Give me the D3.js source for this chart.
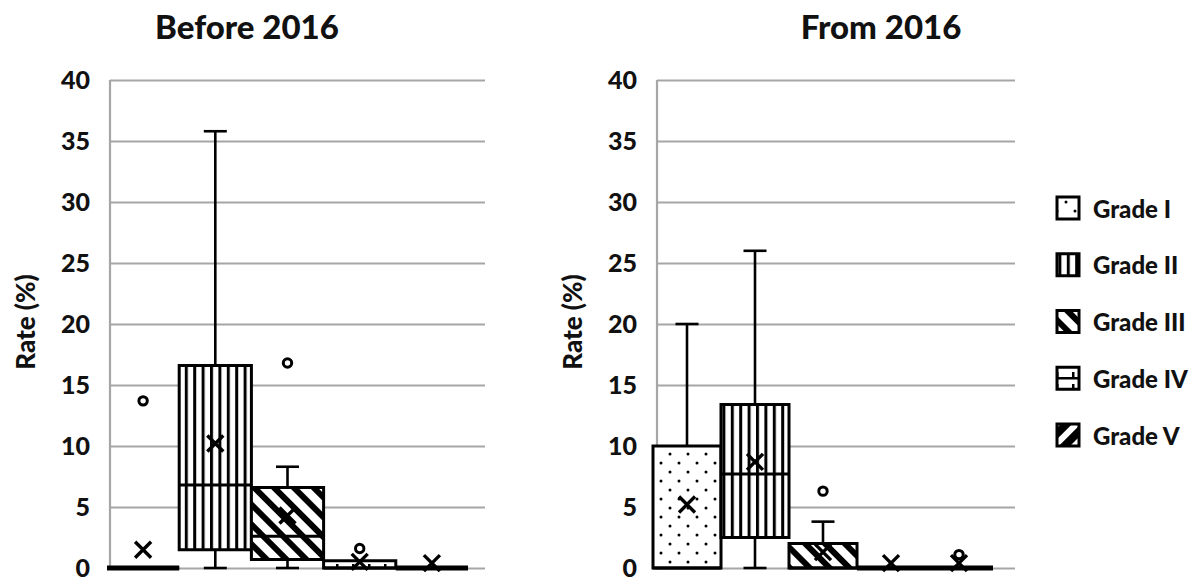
<!DOCTYPE html>
<html><head><meta charset="utf-8">
<script src="https://cdn.jsdelivr.net/npm/d3@7/dist/d3.min.js"></script>
<style>
body{margin:0;background:#fff;}
svg{display:block;}
text{font-family:Lato, "Open Sans", sans-serif;font-weight:900;fill:#111;}
</style></head>
<body>
<svg id="chart" width="1198" height="579"></svg>
<script>
const grades = ["Grade I","Grade II","Grade III","Grade IV","Grade V"];
const yTicks = [0,5,10,15,20,25,30,35,40];
const panelTitles = ["Before 2016","From 2016"];

// Before 2016
const beforeMin     = [0, 0,    0,   0,   0];
const beforeQ1      = [0, 1.5,  0.7, 0,   0];
const beforeMedian  = [0, 6.8,  2.6, 0,   0];
const beforeQ3      = [0, 16.6, 6.6, 0.6, 0];
const beforeMax     = [0, 35.8, 8.3, 0.6, 0];
const beforeMean    = [1.5, 10.2, 4.3, 0.5, 0.4];
const beforeOutliers= [[13.7], [], [16.8], [1.6], []];

// From 2016
const fromMin       = [0,  0,    0,   0,   0];
const fromQ1        = [0,  2.5,  0,   0,   0];
const fromMedian    = [0,  7.7,  0,   0,   0];
const fromQ3        = [10, 13.4, 2.0, 0,   0];
const fromMax       = [20, 26,   3.8, 0,   0];
const fromMean      = [5.2, 8.7, 1.3, 0.4, 0.4];
const fromOutliers  = [[], [], [6.3], [], [1.1]];

const svg = d3.select("#chart");
const defs = svg.append("defs");

// patterns
function pat(id, w, h, draw, rotate){
  const p = defs.append("pattern").attr("id", id).attr("patternUnits","userSpaceOnUse")
    .attr("width", w).attr("height", h);
  if (rotate) p.attr("patternTransform", "rotate(" + rotate + ")");
  p.append("rect").attr("width", w).attr("height", h).attr("fill", "#fff");
  draw(p);
}
pat("p0", 18, 18, p => {
  p.append("circle").attr("cx",4).attr("cy",4).attr("r",1.5).attr("fill","#000");
  p.append("circle").attr("cx",13).attr("cy",13).attr("r",1.5).attr("fill","#000");
});
pat("p1", 8.4, 10, p => {
  p.append("rect").attr("x",0).attr("y",0).attr("width",3).attr("height",10).attr("fill","#000");
});
pat("p2", 14, 14, p => {
  p.append("rect").attr("x",0).attr("y",0).attr("width",6).attr("height",14).attr("fill","#000");
}, -45);
pat("p3", 16, 12, p => {
  p.append("rect").attr("x",0).attr("y",5).attr("width",16).attr("height",2.5).attr("fill","#000");
  p.append("rect").attr("x",0).attr("y",0).attr("width",2.5).attr("height",5).attr("fill","#000");
});
pat("p4", 14, 14, p => {
  p.append("rect").attr("x",0).attr("y",0).attr("width",8).attr("height",14).attr("fill","#000");
}, 45);

const patIds = ["p0","p1","p2","p3","p4"];

const y = d3.scaleLinear().domain([0,40]).range([568,80]);

const panels = [
  {title: panelTitles[0], axisX: 110, gridEnd: 485, bandRange: [107,468], titleX: 247, labelX: 25,
   mn: beforeMin, q1: beforeQ1, md: beforeMedian, q3: beforeQ3, mx: beforeMax, mean: beforeMean, out: beforeOutliers},
  {title: panelTitles[1], axisX: 657, gridEnd: 1015, bandRange: [653,993], titleX: 881, labelX: 572,
   mn: fromMin, q1: fromQ1, md: fromMedian, q3: fromQ3, mx: fromMax, mean: fromMean, out: fromOutliers}
];

panels.forEach(P => {
  const g = svg.append("g");
  const x = d3.scaleBand().domain(grades).range(P.bandRange).padding(0);

  // title
  g.append("text").attr("x", P.titleX).attr("y", 39).attr("text-anchor","middle")
    .style("font-size","33px").text(P.title);

  // y axis + grid
  const ax = g.append("g").attr("transform","translate(" + P.axisX + ",0)")
    .call(d3.axisLeft(y).tickValues(yTicks).tickSize(-(P.gridEnd - P.axisX)).tickPadding(20));
  ax.select(".domain").remove();
  ax.selectAll(".tick line").attr("stroke","#a6a6a6").attr("stroke-width",2.2);
  ax.selectAll(".tick text").style("font-size","25px").style("font-family","Lato, sans-serif")
    .style("font-weight","900").attr("fill","#111");
  g.append("line").attr("x1",P.axisX).attr("x2",P.axisX).attr("y1",y(40)).attr("y2",y(0))
    .attr("stroke","#a6a6a6").attr("stroke-width",2.2);

  // y label
  g.append("text").attr("transform","translate(" + P.labelX + "," + 322 + ") rotate(-90)")
    .attr("text-anchor","middle").attr("dominant-baseline","central")
    .style("font-size","26px").text("Rate (%)");

  // boxes
  grades.forEach((gr, i) => {
    const x0 = x(gr), x1 = x(gr) + x.bandwidth(), cx = x0 + x.bandwidth()/2;
    const capW = 11.5;
    // whiskers
    const wg = g.append("g").attr("stroke","#000").attr("stroke-width",2.6).attr("fill","none");
    if (P.mx[i] > P.q3[i]) {
      wg.append("line").attr("x1",cx).attr("x2",cx).attr("y1",y(P.q3[i])).attr("y2",y(P.mx[i]));
      wg.append("line").attr("x1",cx-capW).attr("x2",cx+capW).attr("y1",y(P.mx[i])).attr("y2",y(P.mx[i]));
    }
    if (P.mn[i] < P.q1[i]) {
      wg.append("line").attr("x1",cx).attr("x2",cx).attr("y1",y(P.q1[i])).attr("y2",y(P.mn[i]));
      wg.append("line").attr("x1",cx-capW).attr("x2",cx+capW).attr("y1",y(P.mn[i])).attr("y2",y(P.mn[i]));
    }
    // box
    const yt = y(P.q3[i]), yb = y(P.q1[i]);
    g.append("path")
      .attr("d", "M" + x0 + "," + yb + "H" + x1 + "V" + yt + "H" + x0 + "Z")
      .attr("fill", "url(#" + patIds[i] + ")")
      .attr("stroke","#000").attr("stroke-width", (yb - yt) < 1 ? 5 : 3);
    // median
    g.append("line").attr("x1",x0).attr("x2",x1).attr("y1",y(P.md[i])).attr("y2",y(P.md[i]))
      .attr("stroke","#000").attr("stroke-width",3);
    // mean marker
    const my = y(P.mean[i]), s = 8;
    g.append("path").attr("d","M"+(cx-s)+","+(my-s)+"L"+(cx+s)+","+(my+s)+"M"+(cx+s)+","+(my-s)+"L"+(cx-s)+","+(my+s))
      .attr("stroke","#000").attr("stroke-width",3.4).attr("fill","none");
    // outliers
    P.out[i].forEach(v => {
      g.append("circle").attr("cx",cx).attr("cy",y(v)).attr("r",4.2)
        .attr("fill","#fff").attr("stroke","#000").attr("stroke-width",3);
    });
  });
});

// legend
const legendY = d3.scalePoint().domain(grades).range([208,435]);
const lg = svg.append("g");
grades.forEach((gr, i) => {
  const cy = legendY(gr);
  lg.append("rect").attr("x",1057).attr("y",cy-11).attr("width",22).attr("height",22)
    .attr("fill","url(#" + patIds[i] + ")").attr("stroke","#000").attr("stroke-width",3);
  lg.append("text").attr("x",1093).attr("y",cy).attr("dominant-baseline","central")
    .style("font-size","24px").text(gr);
});
</script>
</body></html>
